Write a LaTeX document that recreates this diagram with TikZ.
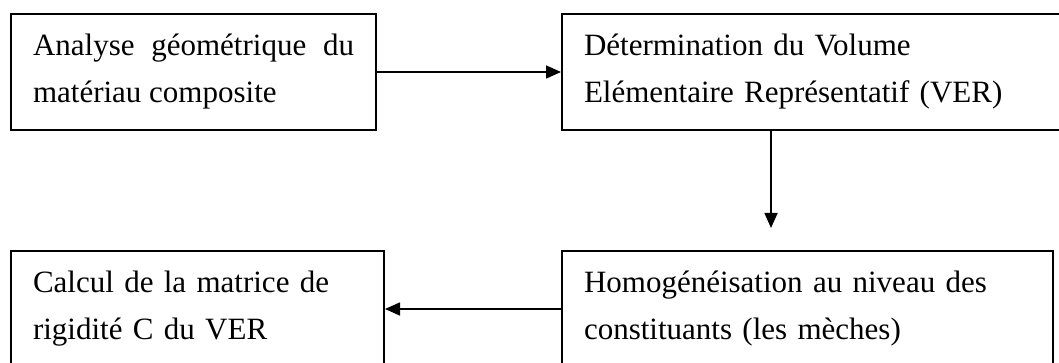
\documentclass[tikz,border=0pt]{standalone}
\usepackage{fontspec}
\setmainfont{Liberation Serif}
\usetikzlibrary{arrows.meta, positioning, calc}

\begin{document}
\begin{tikzpicture}[x=0.5pt, y=-0.5pt,
    every node/.style={font=\fontsize{15.5}{23.5}\selectfont},
    etape/.style={draw, line width=1pt, anchor=north west, align=left, inner xsep=11pt, inner ysep=0pt, minimum height=58pt},
    fleche/.style={-{Triangle[length=7.5pt, width=6.5pt]}, line width=0.8pt}]
    \clip (0,0) rectangle (1059,363);

    \node[etape, text width=160.5pt, align=justify] (analyse) at (10,13) {Analyse géométrique du\linebreak matériau composite};
    \node[etape, text width=228pt] (ver) at (561,13) {Détermination du Volume\\Elémentaire Représentatif (VER)};
    \node[etape, text width=164.5pt] (calcul) at (10,250) {Calcul de la matrice de\\rigidité C du VER};
    \node[etape, text width=223.5pt] (homog) at (561,250) {Homogénéisation au niveau des\\constituants (les mèches)};

    \draw[fleche] (analyse.east) -- (ver.west);
    \draw[fleche] ([xshift=105pt]ver.south west) -- ([xshift=105pt, yshift=11pt]homog.north west);
    \draw[fleche] (homog.west) -- (calcul.east);
\end{tikzpicture}
\end{document}
